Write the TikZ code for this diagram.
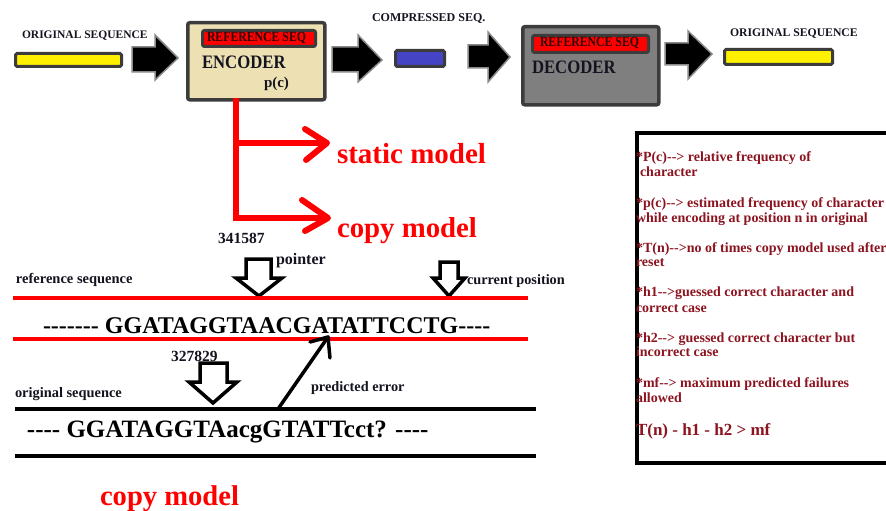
\documentclass[tikz,border=0pt]{standalone}
\usepackage{fontspec}
\setmainfont{Liberation Serif}[Ligatures=TeXOff]
\definecolor{encfill}{HTML}{EDE1B3}
\definecolor{decfill}{HTML}{7F7F7F}
\definecolor{rim}{HTML}{3C3C3C}
\definecolor{barblue}{HTML}{4444C4}
\definecolor{baryellow}{HTML}{FFF000}
\definecolor{legred}{HTML}{8C1420}
\definecolor{ink}{HTML}{141420}
\newcommand\txtsize[1]{\fontsize{#1}{#1}\selectfont\bfseries}

\begin{document}
\begin{tikzpicture}[x=1pt,y=-1pt,
  lbl/.style={anchor=base west, inner sep=0pt, outer sep=0pt, text=ink},
  leg/.style={anchor=base west, inner sep=0pt, outer sep=0pt, text=legred, font=\txtsize{14}},
  bar/.style={draw=rim, line width=3pt, rounded corners=1.5pt, anchor=north west, inner sep=0pt},
  unit/.style={draw=rim, line width=3.5pt, rounded corners=2pt, anchor=north west, inner sep=0pt},
  refbox/.style={draw=rim, line width=3pt, fill=red, rounded corners=2pt, anchor=north west, inner sep=0pt},
  blk/.style={fill=black, draw=rim!60, line width=1.5pt, line join=miter},
  hollow/.style={fill=white, draw=black, line width=3.5pt, line join=miter},
  redline/.style={draw=red, line width=5.5pt},
  chevron/.style={draw=red, line width=6pt, line cap=round, line join=round},
  seqline/.style={line width=4.5pt},
]
\useasboundingbox (0,0) rectangle (886,511);
\clip (0,0) rectangle (886,511);
\fill[white] (0,0) rectangle (886,511);

% ---------------- top pipeline ----------------
\node[lbl, font=\txtsize{11.5}] (inlbl) at (22,39) {ORIGINAL SEQUENCE};
\node[bar, fill=baryellow, minimum width=106pt, minimum height=13pt] (inbar) at (14,52) {};

\draw[blk] (132,47) -- (155,47) -- (155,35) -- (178,58) -- (155,80) -- (155,72) -- (132,72) -- cycle;

\node[unit, fill=encfill, minimum width=137pt, minimum height=77pt] (enc) at (186,21) {};
\node[refbox, minimum width=113pt, minimum height=16pt] (encref) at (201,29) {};
\node[lbl, text=black!80!red, font=\txtsize{14}] (encreft) at (207,42) {\scalebox{0.84}[1]{REFERENCE SEQ}};
\node[lbl, font=\txtsize{19}] (enct) at (202,68) {\scalebox{0.88}[1]{ENCODER}};
\node[lbl, font=\txtsize{15}] (pc) at (264,88) {p(c)};

\draw[blk] (332,47) -- (358,47) -- (358,35) -- (382,60) -- (358,82) -- (358,72) -- (332,72) -- cycle;

\node[lbl, font=\txtsize{12}] (cmplbl) at (372,22) {COMPRESSED SEQ.};
\node[bar, fill=barblue, minimum width=49pt, minimum height=16pt] (cmpbar) at (394,49) {};

\draw[blk] (468,45) -- (488,45) -- (488,32) -- (510,57) -- (488,82) -- (488,68) -- (468,68) -- cycle;

\node[unit, fill=decfill, minimum width=136pt, minimum height=78pt] (dec) at (521,25) {};
\node[refbox, minimum width=116pt, minimum height=17pt] (decref) at (531,34) {};
\node[lbl, text=black!80!red, font=\txtsize{14}] (decreft) at (540,47) {\scalebox{0.84}[1]{REFERENCE SEQ}};
\node[lbl, font=\txtsize{19}] (dect) at (532,74) {\scalebox{0.88}[1]{DECODER}};

\draw[blk] (665,43) -- (688,43) -- (688,31) -- (712,54) -- (688,79) -- (688,65) -- (665,65) -- cycle;

\node[lbl, font=\txtsize{11.7}] (outlbl) at (730,37) {ORIGINAL SEQUENCE};
\node[bar, fill=baryellow, minimum width=108pt, minimum height=15pt] (outbar) at (723,48) {};

% ---------------- model branches ----------------
\coordinate (trunk) at (236,98);
\coordinate (fork1) at (236,143);
\coordinate (fork2) at (236,218);
\coordinate (tip1) at (327,143);
\coordinate (tip2) at (328,218);
\draw[redline] (trunk) -- (fork2) -- (tip2);
\draw[redline] (fork1) -- (tip1);
\draw[chevron] (305,129) -- (tip1) -- (306,160);
\draw[chevron] (302,200) -- (tip2) -- (305,231);
\node[lbl, text=red, font=\txtsize{29}] (static) at (337,163) {static model};
\node[lbl, text=red, font=\txtsize{28.8}] (copy) at (337,237) {copy model};

% ---------------- reference sequence ----------------
\node[lbl, font=\txtsize{15.5}] (refpos) at (218,243) {341587};
\node[lbl, font=\txtsize{16}] (ptr) at (276,264) {pointer};
\node[lbl, font=\txtsize{14.5}] (reflbl) at (16,283) {reference sequence};
\node[lbl, font=\txtsize{14.3}] (curlbl) at (467,284) {current position};

\draw[hollow] (246,259) -- (271,259) -- (271,278) -- (282,278) -- (259,296) -- (236,278) -- (246,278) -- cycle;
\draw[hollow] (440,262) -- (458,262) -- (458,278) -- (465,278) -- (449,296) -- (433,278) -- (440,278) -- cycle;

\draw[redline, line width=4.5pt] (13,298) -- (528,298);
\node[lbl, text=black, font=\txtsize{24}] (refseq) at (43,333) {------- GGATAGGTAACGATATTCCTG----};
\draw[redline, line width=4.5pt] (13,339) -- (528,339);

% ---------------- original sequence ----------------
\node[lbl, font=\txtsize{15.5}] (orgpos) at (171,361) {327829};
\draw[hollow] (200,363) -- (227,363) -- (227,382) -- (237,382) -- (213,403) -- (189,382) -- (200,382) -- cycle;
\node[lbl, font=\txtsize{14.4}] (orglbl) at (15,397) {original sequence};
\node[lbl, font=\txtsize{14.3}] (errlbl) at (311,391) {predicted error};

\draw[seqline] (15,409) -- (536,409);
\node[lbl, text=black, font=\txtsize{25}] (orgseq) at (27,437) {---- GGATAGGTAacgGTATTcct? ----};
\draw[seqline] (15,456) -- (536,456);

\coordinate (errfoot) at (278,409);
\coordinate (errtip) at (328,337);
\draw[line width=3.5pt, line cap=round] (errfoot) -- (errtip);
\draw[line width=3.5pt, line cap=round, line join=round] (310,342) -- (errtip) -- (330,358);

\node[lbl, text=red, font=\txtsize{28.6}] (copy2) at (100,505) {copy model};

% ---------------- legend ----------------
\node[draw=black, line width=4pt, anchor=north west, minimum width=280pt, minimum height=330pt, inner sep=0pt] (legend) at (635,131) {};
\node[leg] (l1) at (636,161) {*P(c)--> relative frequency of};
\node[leg] (l2) at (640,176) {character};
\node[leg] (l3) at (636,207) {*p(c)--> estimated frequency of character};
\node[leg] (l4) at (636,222) {while encoding at position n in original};
\node[leg] (l5) at (636,252) {*T(n)-->no of times copy model used after};
\node[leg] (l6) at (636,266) {reset};
\node[leg] (l7) at (636,296) {*h1-->guessed correct character and};
\node[leg] (l8) at (636,312) {correct case};
\node[leg] (l9) at (636,342) {*h2--> guessed correct character but};
\node[leg] (l10) at (636,356) {incorrect case};
\node[leg] (l11) at (636,387) {*mf--> maximum predicted failures};
\node[leg] (l12) at (636,402) {allowed};
\node[leg, font=\txtsize{17}] (l13) at (636,435) {T(n) - h1 - h2 > mf};
\end{tikzpicture}
\end{document}
